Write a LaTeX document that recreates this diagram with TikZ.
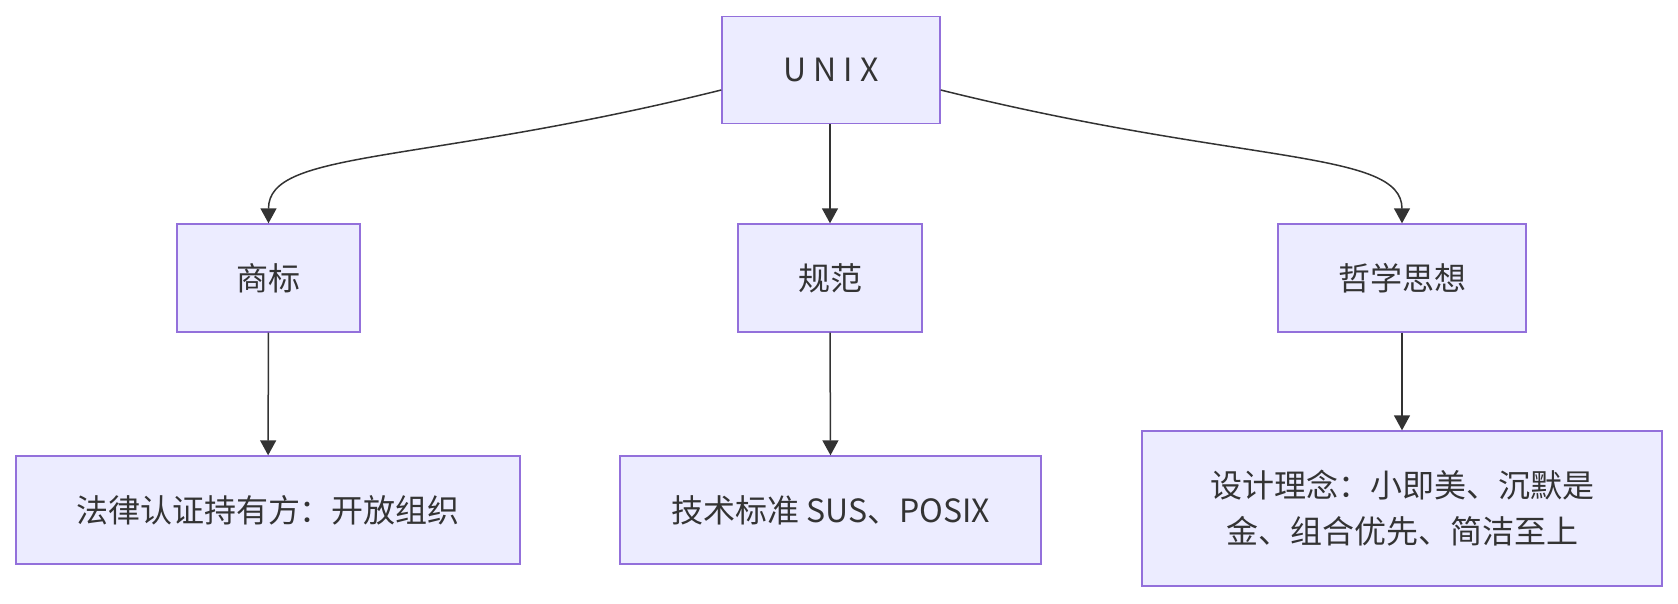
\documentclass[tikz,border=0pt]{standalone}
\usepackage{fontspec}
\setmainfont{Noto Sans CJK SC}
\usetikzlibrary{arrows.meta,calc}
\definecolor{boxfill}{HTML}{ECECFF}
\definecolor{boxline}{HTML}{9370DB}
\definecolor{ink}{HTML}{333333}

\begin{document}
\begin{tikzpicture}[x=0.5pt, y=-0.5pt, main/.style={draw=boxline, fill=boxfill, line width=0.7pt, text=ink, font=\fontsize{16}{23}\selectfont, inner sep=0pt, align=center, minimum height=54pt}, n/.style={-{Triangle[width=8pt,length=7.5pt]}, draw=ink, line width=0.75pt}]
            \useasboundingbox (0,0) rectangle (1678,604);
            % nodes
            \node[main, minimum width=109pt, minimum height=53.5pt] (unix) at (831,70) {U N I X};
            \node[main, minimum width=91.5pt] (brand) at (268.5,278) {商标};
            \node[main, minimum width=92pt] (spec) at (830,278) {规范};
            \node[main, minimum width=124pt] (phil) at (1402,278) {哲学思想};
            \node[main, minimum width=252pt] (owner) at (268,510) {法律认证持有方：开放组织};
            \node[main, minimum width=210.5pt] (std) at (830.5,510) {技术标准 SUS、POSIX};
            \node[main, minimum width=260pt, minimum height=77.5pt] (idea) at (1402,508.5) {设计理念：小即美、沉默是\\金、组合优先、简洁至上};
            % edges
            \draw [n] ($(unix.west)+(0,20)$) .. controls +(-302,75) and +(0,-74) .. (brand.north);
            \draw [n] (unix.south -| spec.north) -- (spec.north);
            \draw [n] ($(unix.east)+(0,20)$) .. controls +(302,75) and +(0,-74) .. (phil.north);
            \draw [n] (brand) -- (owner);
            \draw [n] (spec.south) -- (std.north);
            \draw [n] (phil) -- (idea);
        \end{tikzpicture}
\end{document}
